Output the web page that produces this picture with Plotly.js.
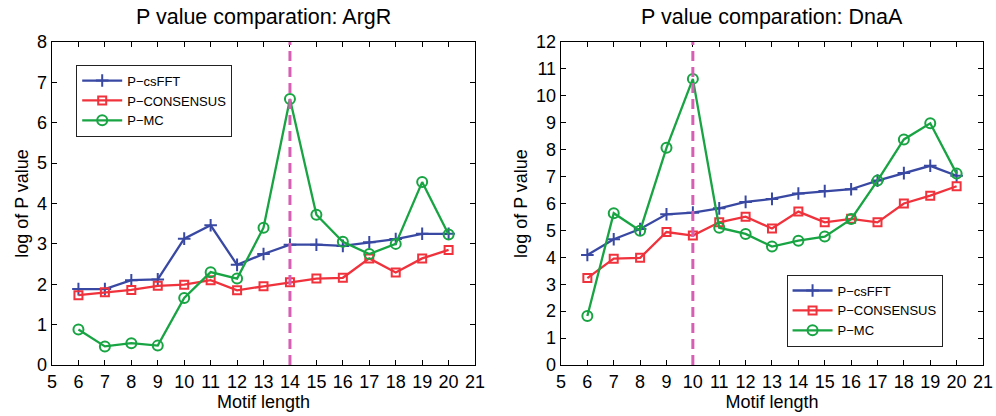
<!DOCTYPE html>
<html>
<head>
<meta charset="utf-8">
<script src="https://cdn.plot.ly/plotly-3.0.1.min.js"></script>
<style>html,body{margin:0;padding:0;background:#fff;}#chart{width:996px;height:416px;}</style>
</head>
<body>
<div id="chart"></div>
<script>
// Motif lengths shared by both panels
const motifLength = [6, 7, 8, 9, 10, 11, 12, 13, 14, 15, 16, 17, 18, 19, 20];
const xTicks = [5, 6, 7, 8, 9, 10, 11, 12, 13, 14, 15, 16, 17, 18, 19, 20, 21];

// ArgR: log of P value per method
const argrCsFFT     = [1.88, 1.88, 2.10, 2.12, 3.13, 3.46, 2.48, 2.75, 2.98, 2.98, 2.95, 3.04, 3.12, 3.25, 3.25];
const argrConsensus = [1.73, 1.80, 1.86, 1.96, 1.99, 2.10, 1.85, 1.95, 2.05, 2.14, 2.16, 2.64, 2.29, 2.64, 2.85];
const argrMC        = [0.88, 0.46, 0.54, 0.48, 1.66, 2.30, 2.14, 3.40, 6.59, 3.72, 3.05, 2.75, 3.00, 4.53, 3.23];
const argrMarkLen = 14;

// DnaA: log of P value per method
const dnaaCsFFT     = [4.09, 4.67, 5.05, 5.60, 5.66, 5.82, 6.06, 6.17, 6.37, 6.46, 6.53, 6.85, 7.13, 7.40, 7.03];
const dnaaConsensus = [3.23, 3.95, 3.98, 4.94, 4.81, 5.30, 5.51, 5.07, 5.70, 5.30, 5.43, 5.30, 6.00, 6.29, 6.64];
const dnaaMC        = [1.82, 5.64, 4.99, 8.07, 10.63, 5.10, 4.87, 4.40, 4.62, 4.77, 5.42, 6.85, 8.38, 8.98, 7.11];
const dnaaMarkLen = 10;

const seriesNames = ['P\u2212csFFT', 'P\u2212CONSENSUS', 'P\u2212MC'];
const colors = ['#3949a3', '#f0323c', '#18a443'];
const font = 'Liberation Sans, Arial, sans-serif';

function series(y, idx, xa, ya, legend) {
  const symbols = ['cross-thin-open', 'square-open', 'circle-open'];
  const sizes = [9, 8, 10];
  return {
    x: motifLength, y: y, xaxis: xa, yaxis: ya,
    type: 'scatter', mode: 'lines+markers',
    name: seriesNames[idx], legend: legend,
    line: {color: colors[idx], width: 2.3},
    marker: {symbol: symbols[idx], size: sizes[idx], color: colors[idx],
             line: {color: colors[idx], width: 2}}
  };
}

const traces = [
  series(argrCsFFT, 0, 'x', 'y', 'legend'),
  series(argrConsensus, 1, 'x', 'y', 'legend'),
  series(argrMC, 2, 'x', 'y', 'legend'),
  series(dnaaCsFFT, 0, 'x2', 'y2', 'legend2'),
  series(dnaaConsensus, 1, 'x2', 'y2', 'legend2'),
  series(dnaaMC, 2, 'x2', 'y2', 'legend2')
];

function xAxis(domain, anchor) {
  return {
    domain: domain, anchor: anchor, range: [5, 21],
    tickmode: 'array', tickvals: xTicks, ticktext: xTicks.map(String),
    ticks: 'inside', ticklen: 5, tickcolor: '#000', mirror: 'ticks',
    showline: true, linecolor: '#000', linewidth: 1.3,
    showgrid: false, zeroline: false,
    tickfont: {family: font, size: 18, color: '#000'},
    title: {text: 'Motif length', font: {family: font, size: 18, color: '#000'}, standoff: 2}
  };
}
function yAxis(max, anchor, titleText) {
  const vals = [];
  for (let v = 0; v <= max; v++) vals.push(v);
  return {
    anchor: anchor, range: [0, max],
    tickmode: 'array', tickvals: vals,
    ticks: 'inside', ticklen: 5, tickcolor: '#000', mirror: 'ticks',
    showline: true, linecolor: '#000', linewidth: 1.3,
    showgrid: false, zeroline: false,
    tickfont: {family: font, size: 18, color: '#000'},
    title: {text: titleText, font: {family: font, size: 18, color: '#000'}, standoff: 3}
  };
}

const legendStyle = {
  font: {family: font, size: 13, color: '#000'},
  bgcolor: '#fff', bordercolor: '#222', borderwidth: 1,
  tracegroupgap: 0, itemwidth: 40
};

const layout = {
  width: 996, height: 416,
  margin: {l: 52, r: 13, t: 42, b: 51},
  paper_bgcolor: '#fff', plot_bgcolor: '#fff',
  showlegend: true,
  xaxis: xAxis([0, 0.4544], 'y'),
  yaxis: yAxis(8, 'x', 'log of P value'),
  xaxis2: xAxis([0.5467, 1], 'y2'),
  yaxis2: yAxis(12, 'x2', 'log of P value'),
  legend: Object.assign({x: 0.026, y: 0.93, xanchor: 'left', yanchor: 'top', xref: 'paper', yref: 'paper'}, legendStyle),
  legend2: Object.assign({x: 0.789, y: 0.28, xanchor: 'left', yanchor: 'top', xref: 'paper', yref: 'paper'}, legendStyle),
  shapes: [
    {type: 'line', xref: 'x', yref: 'y', x0: argrMarkLen, x1: argrMarkLen, y0: 0, y1: 8,
     line: {color: '#d65fb4', width: 3, dash: '10px,6px'}},
    {type: 'line', xref: 'x2', yref: 'y2', x0: dnaaMarkLen, x1: dnaaMarkLen, y0: 0, y1: 12,
     line: {color: '#d65fb4', width: 3, dash: '10px,6px'}}
  ],
  annotations: [
    {text: 'P value comparation: ArgR', xref: 'paper', yref: 'paper', x: 0.2272, y: 1, yshift: 25,
     xanchor: 'center', yanchor: 'middle', showarrow: false, font: {family: font, size: 21.5, color: '#000'}},
    {text: 'P value comparation: DnaA', xref: 'paper', yref: 'paper', x: 0.7733, y: 1, yshift: 25,
     xanchor: 'center', yanchor: 'middle', showarrow: false, font: {family: font, size: 21.5, color: '#000'}}
  ]
};

Plotly.newPlot('chart', traces, layout, {displayModeBar: false, staticPlot: true});
</script>
</body>
</html>
